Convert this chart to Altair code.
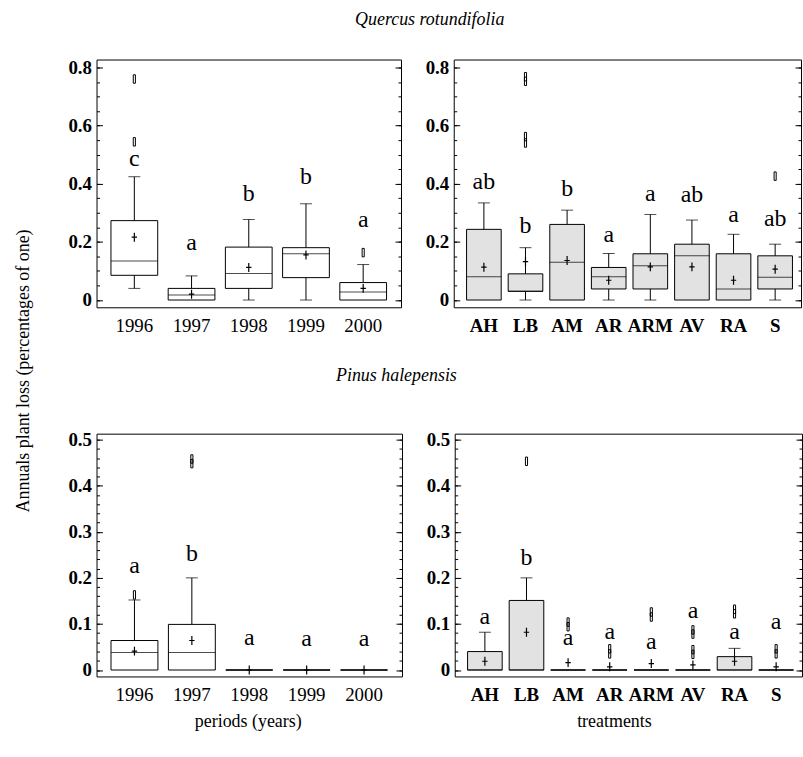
import altair as alt
import pandas as pd

FONT = "Liberation Serif"

years = ["1996", "1997", "1998", "1999", "2000"]
treat = ["AH", "LB", "AM", "AR", "ARM", "AV", "RA", "S"]

# Quercus rotundifolia - periods
qp_wlo = [0.040, 0.0, 0.0, 0.0, 0.0]
qp_q1 = [0.085, 0.0, 0.040, 0.077, 0.0]
qp_med = [0.134, 0.017, 0.091, 0.159, 0.028]
qp_q3 = [0.273, 0.040, 0.182, 0.180, 0.060]
qp_whi = [0.424, 0.083, 0.277, 0.331, 0.122]
qp_mean = [0.216, 0.020, 0.112, 0.155, 0.040]
qp_let = ["c", "a", "b", "b", "a"]
qp_let_y = [0.461, 0.172, 0.339, 0.399, 0.251]
qp_out_cat = ["1996", "1996", "2000"]
qp_out_val = [0.760, 0.544, 0.163]

# Quercus rotundifolia - treatments
qt_wlo = [0.0, 0.0, 0.0, 0.0, 0.0, 0.0, 0.0, 0.0]
qt_q1 = [0.0, 0.030, 0.0, 0.038, 0.038, 0.0, 0.0, 0.038]
qt_med = [0.080, 0.030, 0.130, 0.080, 0.118, 0.152, 0.038, 0.078]
qt_q3 = [0.243, 0.090, 0.260, 0.112, 0.159, 0.192, 0.159, 0.152]
qt_whi = [0.334, 0.180, 0.309, 0.160, 0.294, 0.275, 0.226, 0.192]
qt_mean = [0.113, 0.132, 0.136, 0.068, 0.114, 0.114, 0.068, 0.106]
qt_let = ["ab", "b", "b", "a", "a", "ab", "a", "ab"]
qt_let_y = [0.383, 0.229, 0.358, 0.199, 0.340, 0.336, 0.269, 0.254]
qt_out_cat = ["LB", "LB", "LB", "LB", "S"]
qt_out_val = [0.768, 0.752, 0.562, 0.540, 0.426]

# Pinus halepensis - periods
pp_wlo = [0.0, 0.0, 0.0, 0.0, 0.0]
pp_q1 = [0.0, 0.0, 0.0, 0.0, 0.0]
pp_med = [0.038, 0.038, 0.0, 0.0, 0.0]
pp_q3 = [0.064, 0.099, 0.0, 0.0, 0.0]
pp_whi = [0.152, 0.200, 0.0, 0.0, 0.0]
pp_mean = [0.041, 0.064, 0.0, 0.0, 0.0]
pp_let = ["a", "b", "a", "a", "a"]
pp_let_y = [0.210, 0.237, 0.054, 0.052, 0.052]
pp_out_cat = ["1996", "1997", "1997"]
pp_out_val = [0.163, 0.458, 0.448]

# Pinus halepensis - treatments
pt_wlo = [0.0, 0.0, 0.0, 0.0, 0.0, 0.0, 0.0, 0.0]
pt_q1 = [0.0, 0.0, 0.0, 0.0, 0.0, 0.0, 0.0, 0.0]
pt_med = [0.0, 0.0, 0.0, 0.0, 0.0, 0.0, 0.0, 0.0]
pt_q3 = [0.040, 0.151, 0.0, 0.0, 0.0, 0.0, 0.029, 0.0]
pt_whi = [0.082, 0.200, 0.0, 0.0, 0.0, 0.0, 0.047, 0.0]
pt_mean = [0.019, 0.082, 0.016, 0.007, 0.014, 0.011, 0.019, 0.007]
pt_let = ["a", "b", "a", "a", "a", "a", "a", "a"]
pt_let_y = [0.099, 0.229, 0.054, 0.067, 0.045, 0.113, 0.067, 0.088]
pt_out_cat = ["LB", "AM", "AM", "AR", "AR", "ARM", "ARM", "AV", "AV", "AV", "AV",
              "RA", "RA", "S", "S"]
pt_out_val = [0.453, 0.104, 0.094, 0.046, 0.035, 0.126, 0.115, 0.087, 0.078,
              0.044, 0.034, 0.132, 0.122, 0.046, 0.035]

major_q = [0, 0.2, 0.4, 0.6, 0.8]
minor_q = [round(i * 0.05, 2) for i in range(17)]
major_p = [0, 0.1, 0.2, 0.3, 0.4, 0.5]
minor_p = [round(i * 0.02, 2) for i in range(26)]

PLUS = "M0,-1L0,1M-0.6,0L0.6,0"
RECT = "M-0.25,-1L0.25,-1L0.25,1L-0.25,1Z"


def yax(orient, values, size, labels, weight="bold"):
    kw = dict(orient=orient, values=values, tickSize=size, offset=-size,
              labels=labels, domain=False, grid=False, title=None,
              tickColor="black", tickWidth=1, zindex=1)
    if labels:
        kw.update(format=".1~f", labelFont=FONT, labelFontSize=19,
                  labelFontWeight=weight, labelColor="black", labelPadding=5)
    return alt.Axis(**kw)


def panel(cats, wlo, q1, med, q3, whi, mean, let, let_y, out_cat, out_val,
          ydom, ymajor, yminor, w, h, p_in, p_out, align, box_w, fill,
          xtitle, xweight, title_x):
    df = pd.DataFrame(dict(cat=cats, wlo=wlo, q1=q1, med=med, q3=q3, whi=whi,
                           mean=mean, let=let, let_y=let_y))
    dfo = pd.DataFrame(dict(cat=out_cat, val=out_val))
    xs = alt.Scale(domain=cats, paddingInner=p_in, paddingOuter=p_out, align=align)
    xkw = dict(ticks=False, domain=False, labelAngle=0, labelFont=FONT,
               labelFontSize=19, labelFontWeight=xweight, labelColor="black",
               labelPadding=9, titleFont=FONT, titleFontSize=18,
               titleFontWeight="normal", titleColor="black", titlePadding=8,
               titleX=title_x)
    X = alt.X("cat:N", scale=xs, axis=alt.Axis(**xkw), title=xtitle)
    ys = alt.Scale(domain=ydom, nice=False, zero=False)
    base = alt.Chart(df)
    boxes = base.mark_bar(fill=fill, stroke="black", strokeWidth=1).encode(
        x=X, y=alt.Y("q1:Q", scale=ys, axis=yax("left", ymajor, 6, True)),
        y2="q3:Q")
    meds = base.mark_tick(size=box_w, thickness=1, color="black").encode(
        x=X, y=alt.Y("med:Q", scale=ys, axis=yax("left", yminor, 3, False)))
    up = base.transform_filter("datum.whi > datum.q3")
    wup = up.mark_rule(color="black", strokeWidth=1).encode(
        x=X, y=alt.Y("q3:Q", scale=ys, axis=yax("right", ymajor, 6, False)),
        y2="whi:Q")
    cup = up.mark_tick(size=12, thickness=1, color="black").encode(
        x=X, y=alt.Y("whi:Q", scale=ys, axis=yax("right", yminor, 3, False)))
    lo = base.transform_filter("datum.wlo < datum.q1")
    wlo_r = lo.mark_rule(color="black", strokeWidth=1).encode(
        x=X, y=alt.Y("wlo:Q", scale=ys, axis=None), y2="q1:Q")
    clo = lo.mark_tick(size=12, thickness=1, color="black").encode(
        x=X, y=alt.Y("wlo:Q", scale=ys, axis=None))
    means = base.mark_point(shape=PLUS, size=81, filled=False, stroke="black",
                            strokeWidth=1.2, opacity=1).encode(
        x=X, y=alt.Y("mean:Q", scale=ys, axis=None))
    outs = alt.Chart(dfo).mark_point(shape=RECT, size=72, filled=False,
                                     stroke="black", strokeWidth=1,
                                     opacity=1).encode(
        x=X, y=alt.Y("val:Q", scale=ys, axis=None))
    texts = base.mark_text(font=FONT, fontSize=24, baseline="alphabetic",
                           align="center", color="black").encode(
        x=X, y=alt.Y("let_y:Q", scale=ys, axis=None), text="let:N")
    return alt.layer(boxes, meds, wup, cup, wlo_r, clo, means, outs, texts).resolve_axis(
        y="independent").properties(width=w, height=h)


tl = panel(years, qp_wlo, qp_q1, qp_med, qp_q3, qp_whi, qp_mean, qp_let, qp_let_y,
           qp_out_cat, qp_out_val, [-0.025, 0.827], major_q, minor_q,
           306, 249, 0.183, 0.2525, 0.5, 47, "white", None, "normal", 153)
tr = panel(treat, qt_wlo, qt_q1, qt_med, qt_q3, qt_whi, qt_mean, qt_let, qt_let_y,
           qt_out_cat, qt_out_val, [-0.025, 0.827], major_q, minor_q,
           349, 249, 0.168, 0.257, 0.6, 35, "#e2e2e2", None, "bold", 160)
bl = panel(years, pp_wlo, pp_q1, pp_med, pp_q3, pp_whi, pp_mean, pp_let, pp_let_y,
           pp_out_cat, pp_out_val, [-0.014, 0.513], major_p, minor_p,
           307, 244, 0.183, 0.2525, 0.5, 47, "white", "periods (years)", "normal", 152)
br = panel(treat, pt_wlo, pt_q1, pt_med, pt_q3, pt_whi, pt_mean, pt_let, pt_let_y,
           pt_out_cat, pt_out_val, [-0.014, 0.513], major_p, minor_p,
           349, 244, 0.168, 0.257, 0.6, 35, "#e2e2e2", "treatments", "bold", 160)

row_title = dict(font=FONT, fontSize=18, fontStyle="italic", fontWeight="normal",
                 color="black", anchor="middle")

top = alt.hconcat(tl, tr, spacing=22).properties(
    title=alt.TitleParams("Quercus rotundifolia", offset=29, dx=-5, **row_title))
bottom = alt.hconcat(bl, br, spacing=22).properties(
    title=alt.TitleParams("Pinus halepensis", offset=45, dx=-39, **row_title))

chart = alt.vconcat(top, bottom, spacing=31).properties(
    title=alt.TitleParams("Annuals plant loss (percentages of one)", orient="left",
                          anchor="middle", font=FONT, fontSize=18,
                          fontWeight="normal", color="black", offset=35),
    padding={"left": 14, "top": 9, "right": 0, "bottom": 0},
    background="white",
).configure_view(stroke="black", strokeWidth=1).configure_concat(spacing=22)

chart.save("out.html", embed_options={"renderer": "svg", "actions": False})
